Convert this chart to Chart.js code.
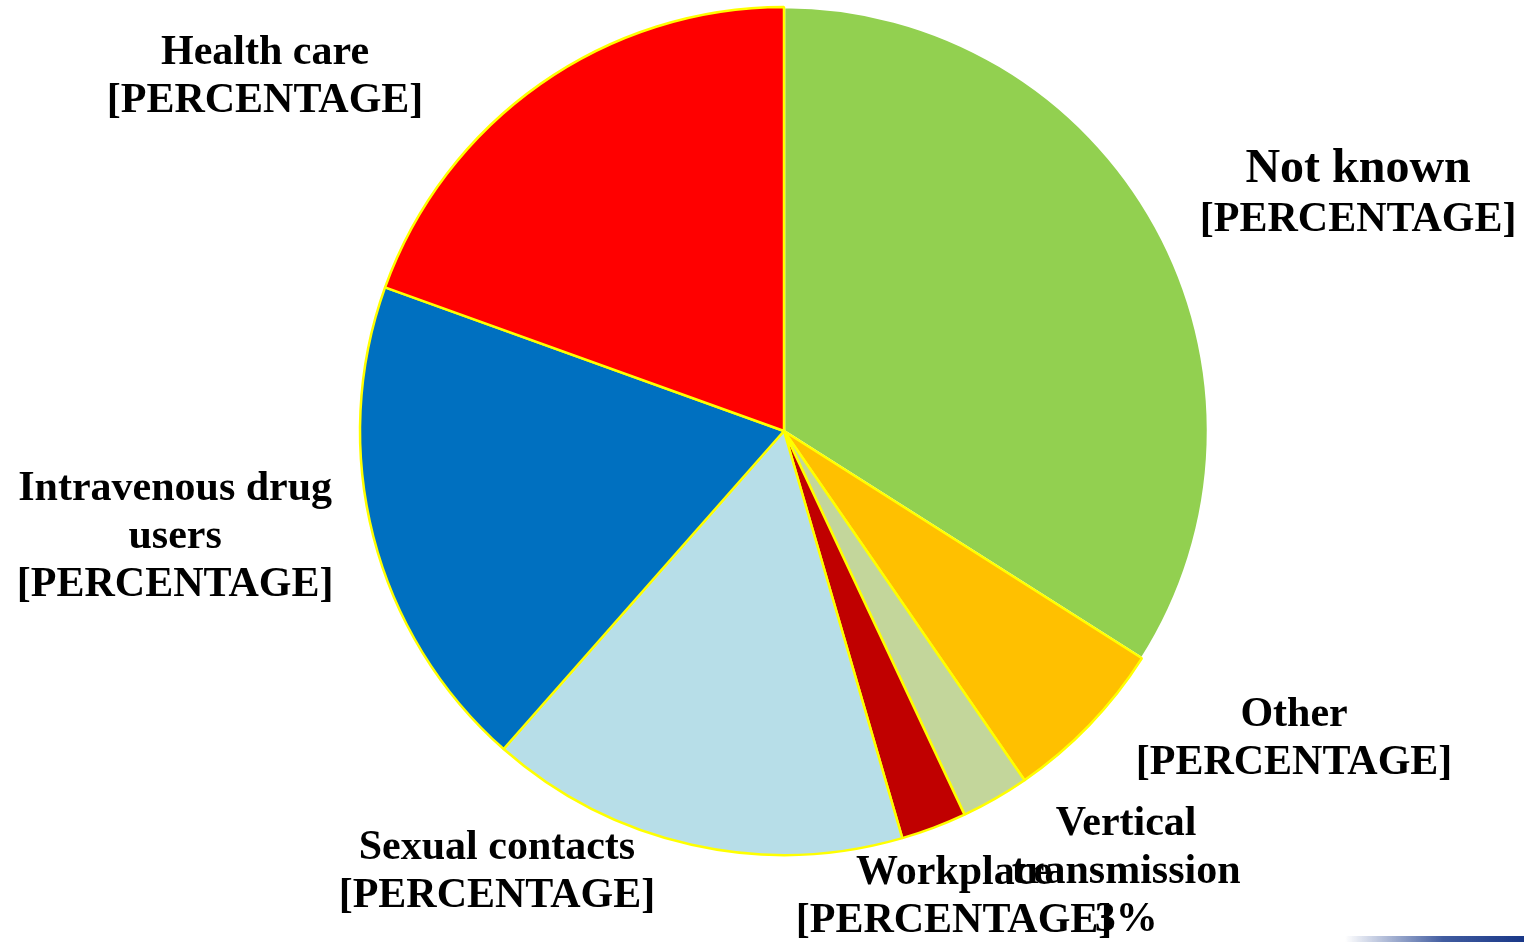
<!DOCTYPE html>
<html>
<head>
<meta charset="utf-8">
<script src="https://cdn.jsdelivr.net/npm/chart.js@4"></script>
<style>
html,body{margin:0;padding:0;background:#fff;}
#wrap{width:1524px;height:942px;position:relative;}
</style>
</head>
<body>
<div id="wrap"><canvas id="c" width="1524" height="942"></canvas></div>
<script>
// ---- data ----
const categories = ["Not known", "Other", "Vertical transmission", "Workplace", "Sexual contacts", "Intravenous drug users", "Health care"];
const values = [34, 6.4, 2.6, 2.5, 16, 19, 19.5];
const valueTexts = ["[PERCENTAGE]", "[PERCENTAGE]", "3%", "[PERCENTAGE]", "[PERCENTAGE]", "[PERCENTAGE]", "[PERCENTAGE]"];
const nameLines = [["Not known"], ["Other"], ["Vertical", "transmission"], ["Workplace"], ["Sexual contacts"], ["Intravenous drug", "users"], ["Health care"]];
const colors = ["#92D050", "#FFC000", "#C3D69B", "#C00000", "#B7DEE8", "#0070C0", "#FF0000"];
const borders = ["#FFFFFF", "#FFFF00", "#FFFF00", "#FFFF00", "#FFFF00", "#FFFF00", "#FFFF00"];

// label placement (relative to pie centre, in units of radius) and styling
const labelPos = [
  {dx: 1.354, dy: -0.566, size: 48, firstSize: 48, lh: 50},
  {dx: 1.203, dy: 0.717, size: 42, lh: 48},
  {dx: 0.807, dy: 1.031, size: 42, lh: 48},
  {dx: 0.401, dy: 1.091, size: 42, lh: 48},
  {dx: -0.677, dy: 1.030, size: 42, lh: 48},
  {dx: -1.436, dy: 0.240, size: 42, lh: 48},
  {dx: -1.224, dy: -0.844, size: 42, lh: 48}
];

const labelPlugin = {
  id: 'outerLabels',
  afterDatasetsDraw(chart) {
    const ctx = chart.ctx;
    const arc = chart.getDatasetMeta(0).data[0];
    const cx = arc.x, cy = arc.y, r = arc.outerRadius;
    ctx.save();
    ctx.fillStyle = '#000';
    ctx.textAlign = 'center';
    ctx.textBaseline = 'middle';
    categories.forEach((c, i) => {
      const p = labelPos[i];
      const lines = nameLines[i].concat([valueTexts[i]]);
      const x = cx + p.dx * r;
      const yc = cy + p.dy * r;
      const total = (lines.length - 1) * p.lh;
      lines.forEach((ln, j) => {
        let sz = p.size;
        if (j === 0 && p.firstSize && i === 0) sz = p.firstSize;
        if (i === 0 && j === 1) sz = 42;
        ctx.font = 'bold ' + sz + 'px "Liberation Serif", "Times New Roman", serif';
        ctx.fillText(ln, x, yc - total / 2 + j * p.lh + 4);
      });
    });
    // decorative slide rule at bottom right
    const g = ctx.createLinearGradient(1345, 0, 1524, 0);
    g.addColorStop(0, 'rgba(31,63,143,0)');
    g.addColorStop(0.55, 'rgba(31,63,143,0.85)');
    g.addColorStop(1, 'rgba(25,55,135,1)');
    ctx.fillStyle = g;
    ctx.fillRect(1345, 936, 179, 6);
    ctx.restore();
  }
};

new Chart(document.getElementById('c'), {
  type: 'pie',
  data: {
    labels: categories,
    datasets: [{
      data: values,
      backgroundColor: colors,
      borderColor: borders,
      borderWidth: 2.5,
      hoverOffset: 0
    }]
  },
  options: {
    responsive: false,
    animation: false,
    radius: 424,
    layout: {padding: {left: 44, right: 0, top: 0, bottom: 80}},
    plugins: {legend: {display: false}, tooltip: {enabled: false}, title: {display: false}}
  },
  plugins: [labelPlugin]
});
</script>
</body>
</html>
